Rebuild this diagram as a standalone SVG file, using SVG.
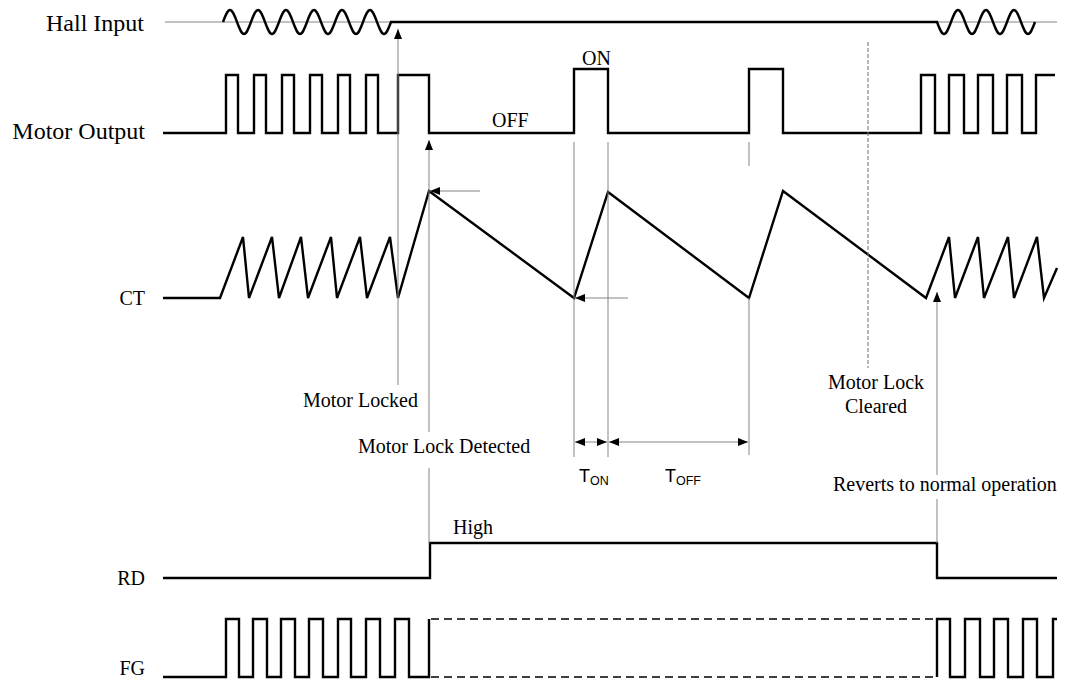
<svg xmlns="http://www.w3.org/2000/svg" width="1068" height="685" viewBox="0 0 1068 685">
<style>
.wave{fill:none;stroke:#000;stroke-width:2.4;stroke-linejoin:miter}
.guide{fill:none;stroke:#858585;stroke-width:1}
.dash{fill:none;stroke:#7a7a7a;stroke-width:1.1;stroke-dasharray:4 2}
.fgdash{fill:none;stroke:#000;stroke-width:1.3;stroke-dasharray:8 5}
.lbl{font-family:"Liberation Serif","Times New Roman",serif;fill:#000}
.big{font-size:24px}
.mid{font-size:20px}
.sans{font-family:"Liberation Sans",Arial,sans-serif;fill:#000}
</style>
<defs>
<marker id="ah" viewBox="0 0 10 8" refX="10" refY="4" markerWidth="10" markerHeight="8" markerUnits="userSpaceOnUse" orient="auto-start-reverse">
<path d="M0,0 L10,4 L0,8 z" fill="#000"/>
</marker>
</defs>
<rect width="1068" height="685" fill="#fff"/>

<g id="hall-input">
<line class="guide" x1="165" y1="22" x2="1057" y2="22"/>
<path class="wave" d="M223,22
c2.34,-6.3 4.48,-12 7,-12 c2.52,0 4.66,5.7 7,12 c2.34,6.3 4.48,12 7,12 c2.52,0 4.66,-5.7 7,-12
c2.34,-6.3 4.48,-12 7,-12 c2.52,0 4.66,5.7 7,12 c2.34,6.3 4.48,12 7,12 c2.52,0 4.66,-5.7 7,-12
c2.34,-6.3 4.48,-12 7,-12 c2.52,0 4.66,5.7 7,12 c2.34,6.3 4.48,12 7,12 c2.52,0 4.66,-5.7 7,-12
c2.34,-6.3 4.48,-12 7,-12 c2.52,0 4.66,5.7 7,12 c2.34,6.3 4.48,12 7,12 c2.52,0 4.66,-5.7 7,-12
c2.34,-6.3 4.48,-12 7,-12 c2.52,0 4.66,5.7 7,12 c2.34,6.3 4.48,12 7,12 c2.52,0 4.66,-5.7 7,-12
c2.34,-6.3 4.48,-12 7,-12 c2.52,0 4.66,5.7 7,12 c2.34,6.3 4.48,12 7,12 c2.52,0 4.66,-5.7 7,-12
H937
c2.34,6.3 4.48,12 7,12 c2.52,0 4.66,-5.7 7,-12 c2.34,-6.3 4.48,-12 7,-12 c2.52,0 4.66,5.7 7,12
c2.34,6.3 4.48,12 7,12 c2.52,0 4.66,-5.7 7,-12 c2.34,-6.3 4.48,-12 7,-12 c2.52,0 4.66,5.7 7,12
c2.34,6.3 4.48,12 7,12 c2.52,0 4.66,-5.7 7,-12 c2.34,-6.3 4.48,-12 7,-12 c2.52,0 4.66,5.7 7,12
c2.34,6.3 4.48,12 7,12 c2.52,0 4.66,-5.7 7,-12"/>
<text class="lbl big" x="144" y="31" text-anchor="end">Hall Input</text>
</g>

<g id="motor-output">
<path class="wave" d="M163,133 H226 V75 H238 V133 H254 V75 H266 V133 H282 V75 H294 V133 H310 V75 H322 V133 H338 V75 H350 V133 H366 V75 H378 V133 H398 V75 H429 V133 H574 V69 H608 V133 H749 V69 H783 V133 H921 V75 H935 V133 H949 V75 H964 V133 H978 V75 H993 V133 H1007 V75 H1022 V133 H1036 V75 H1055"/>
<text class="lbl big" x="145" y="139" text-anchor="end">Motor Output</text>
<text class="lbl mid" x="492" y="127">OFF</text>
<text class="lbl mid" x="582" y="65">ON</text>
</g>

<g id="ct">
<path class="wave" d="M163,298 H220 L243,237 L249,298 L272,237 L279,298 L301,237 L308,298 L331,237 L337,298 L360,237 L367,298 L390,237 L398,298 L429,191 L574,298 L608,192 L749,298 L783,191 L926,298 L949,237 L955,298 L978,237 L984,298 L1008,237 L1014,298 L1037,237 L1044,298 L1057,268"/>
<text class="lbl mid" x="145" y="305" text-anchor="end">CT</text>
</g>

<g id="rd">
<path class="wave" d="M163,578 H430 V543 H937 V578 H1057"/>
<text class="lbl mid" x="145" y="585" text-anchor="end">RD</text>
<text class="lbl mid" x="453" y="534">High</text>
</g>

<g id="fg">
<path class="wave" d="M163,677 H226 V619 H239 V677 H253 V619 H267 V677 H281 V619 H295 V677 H309 V619 H323 V677 H338 V619 H351 V677 H366 V619 H380 V677 H395 V619 H409 V677 H429 V619"/>
<path class="fgdash" d="M431,619 H936 M431,677 H936"/>
<path class="wave" d="M937,677 V619 H950 V677 H965 V619 H980 V677 H994 V619 H1008 V677 H1023 V619 H1037 V677 H1053 V619 H1057"/>
<text class="lbl mid" x="145" y="675" text-anchor="end">FG</text>
</g>

<g id="connectors">
<line class="guide" x1="398" y1="385" x2="398" y2="29" marker-end="url(#ah)"/>
<line class="guide" x1="429" y1="432" x2="429" y2="140" marker-end="url(#ah)"/>
<line class="guide" x1="429" y1="468" x2="429" y2="543"/>
<line class="guide" x1="480" y1="191" x2="430" y2="191" marker-end="url(#ah)"/>
<line class="guide" x1="628" y1="298" x2="575" y2="298" marker-end="url(#ah)"/>
<line class="guide" x1="574" y1="142" x2="574" y2="457"/>
<line class="guide" x1="608" y1="142" x2="608" y2="457"/>
<line class="guide" x1="749" y1="142" x2="749" y2="166"/>
<line class="guide" x1="749" y1="298" x2="749" y2="455"/>
<line class="dash" x1="868" y1="42" x2="868" y2="368"/>
<line class="guide" x1="937" y1="475" x2="937" y2="292" marker-end="url(#ah)"/>
<line class="guide" x1="937" y1="499" x2="937" y2="543"/>
<line class="guide" x1="575" y1="442" x2="607" y2="442" marker-start="url(#ah)" marker-end="url(#ah)"/>
<line class="guide" x1="609" y1="442" x2="748" y2="442" marker-start="url(#ah)" marker-end="url(#ah)"/>
</g>

<g id="annotations">
<text class="lbl mid" x="303" y="407">Motor Locked</text>
<text class="lbl mid" x="358" y="453">Motor Lock Detected</text>
<text class="lbl mid" x="876" y="389" text-anchor="middle">Motor Lock</text>
<text class="lbl mid" x="876" y="413" text-anchor="middle">Cleared</text>
<text class="lbl mid" x="833" y="491">Reverts to normal operation</text>
<text class="sans" x="579" y="482" font-size="18">T<tspan font-size="12.5" dy="3">ON</tspan></text>
<text class="sans" x="665" y="482" font-size="18">T<tspan font-size="12.5" dy="3">OFF</tspan></text>
</g>
</svg>
